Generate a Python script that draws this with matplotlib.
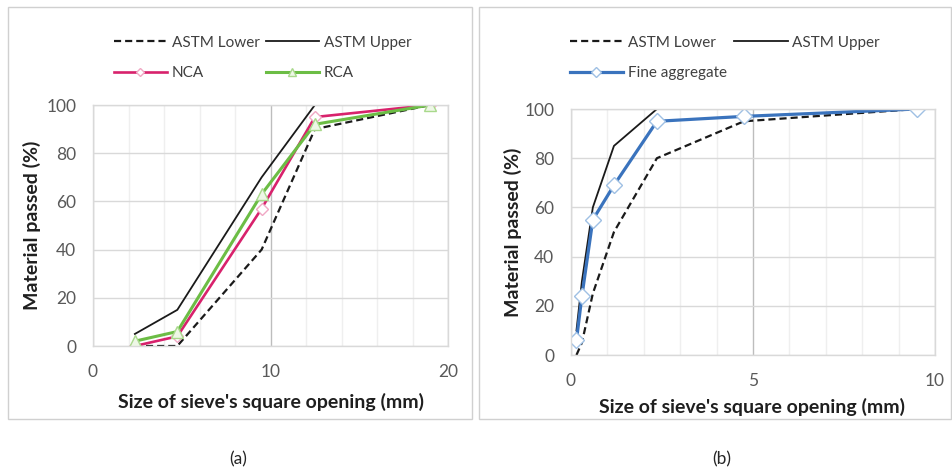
import matplotlib
matplotlib.use("Agg")
import matplotlib.pyplot as plt
from matplotlib.patches import Rectangle
from matplotlib.ticker import MultipleLocator

plt.rcParams["font.family"] = ["Lato", "DejaVu Sans"]

# (a) coarse aggregate grading
coarse_sieve = [2.36, 4.75, 9.5, 12.5, 19.0]
coarse_lower = [0, 0, 40, 90, 100]
coarse_upper = [5, 15, 70, 100, 100]
nca_passed = [0, 4, 57, 95, 100]
rca_passed = [2, 6, 63, 92, 100]

# (b) fine aggregate grading
fine_sieve = [0.15, 0.3, 0.6, 1.18, 2.36, 4.75, 9.5]
fine_lower = [0, 5, 25, 50, 80, 95, 100]
fine_upper = [10, 30, 60, 85, 100, 100, 100]
fine_passed = [6, 24, 55, 69, 95, 97, 100]

y_ticks = [0, 20, 40, 60, 80, 100]
x_ticks_a = [0, 10, 20]
x_ticks_b = [0, 5, 10]

W, H = 952, 469
fig = plt.figure(figsize=(W / 100, H / 100), dpi=100)
fig.patch.set_facecolor("white")


def px_box(x0, y0, x1, y1):
    return [x0 / W, 1 - y1 / H, (x1 - x0) / W, (y1 - y0) / H]


# panel frames
for (x0, y0, x1, y1) in [(8, 7, 472, 419), (479, 7, 951, 419)]:
    fig.add_artist(Rectangle((x0 / W, 1 - y1 / H), (x1 - x0) / W, (y1 - y0) / H,
                             transform=fig.transFigure, fill=False,
                             edgecolor="#d0d0d0", linewidth=1.0))

ax_a = fig.add_axes(px_box(93, 105, 448, 346))
ax_b = fig.add_axes(px_box(571, 109, 935, 355))

TICK_COLOR = "#595959"
GRID_MAJOR = "#d9d9d9"


def style_axes(ax, xmax, xminor, xticks):
    ax.set_xlim(0, xmax)
    ax.set_ylim(0, 100)
    ax.set_xticks(xticks)
    ax.set_yticks(y_ticks)
    ax.xaxis.set_minor_locator(MultipleLocator(xminor))
    ax.grid(axis="y", which="major", color=GRID_MAJOR, linewidth=1.0)
    ax.grid(axis="x", which="major", color="#bdbdbd", linewidth=1.0)
    ax.grid(axis="x", which="minor", color="#efefef", linewidth=1.0)
    ax.set_axisbelow(True)
    for sp in ax.spines.values():
        sp.set_color(GRID_MAJOR)
        sp.set_linewidth(1.0)
    ax.tick_params(which="both", length=0, labelsize=12.5, colors=TICK_COLOR)
    ax.tick_params(axis="x", pad=13)
    ax.tick_params(axis="y", pad=12)


style_axes(ax_a, 20, 2, x_ticks_a)
style_axes(ax_b, 10, 1, x_ticks_b)

LOWER_KW = dict(color="#1a1a1a", linestyle=(0, (3.2, 1.8)), linewidth=1.6)
UPPER_KW = dict(color="#1a1a1a", linestyle="-", linewidth=1.3)

la, = ax_a.plot(coarse_sieve, coarse_lower, label="ASTM Lower", **LOWER_KW)
ua, = ax_a.plot(coarse_sieve, coarse_upper, label="ASTM Upper", **UPPER_KW)
na, = ax_a.plot(coarse_sieve, nca_passed, label="NCA", color="#d8226c",
                linewidth=1.9, marker="D", markersize=6.5,
                markerfacecolor="white", markeredgecolor="#f0a8c4",
                markeredgewidth=1.0)
ra, = ax_a.plot(coarse_sieve, rca_passed, label="RCA", color="#6cbd45",
                linewidth=2.2, marker="^", markersize=9,
                markerfacecolor="#eef7e6", markeredgecolor="#a9d98c",
                markeredgewidth=1.0)

lb, = ax_b.plot(fine_sieve, fine_lower, label="ASTM Lower", **LOWER_KW)
ub, = ax_b.plot(fine_sieve, fine_upper, label="ASTM Upper", **UPPER_KW)
fb, = ax_b.plot(fine_sieve, fine_passed, label="Fine aggregate", color="#3a73bd",
                linewidth=2.3, marker="D", markersize=8,
                markerfacecolor="white", markeredgecolor="#9fc0e4",
                markeredgewidth=1.0)

LABEL_KW = dict(fontsize=14, fontweight="bold", color="#1f1f1f")
for ax in (ax_a, ax_b):
    ax.set_xlabel("Size of sieve's square opening (mm)", va="center", **LABEL_KW)
    ax.set_ylabel("Material passed (%)", va="center", **LABEL_KW)

ax_a.xaxis.set_label_coords((271.5 - 93) / 355, -(402 - 346) / 241)
ax_a.yaxis.set_label_coords(-(93 - 32) / 355, 0.5)
ax_b.xaxis.set_label_coords((752 - 571) / 364, -(407 - 355) / 246)
ax_b.yaxis.set_label_coords(-(571 - 513) / 364, 0.5)

LEG_KW = dict(ncol=2, frameon=False, fontsize=11, handlelength=3.5,
              handletextpad=0.3, labelspacing=1.1, borderpad=0,
              labelcolor="#404040", loc="upper left", markerscale=0.6)
ax_a.legend([la, na, ua, ra], ["ASTM Lower", "NCA", "ASTM Upper", "RCA"],
            bbox_to_anchor=(106 / W, 1 - 28 / H), bbox_transform=fig.transFigure,
            columnspacing=0.4, **LEG_KW)
ax_b.legend([lb, fb, ub], ["ASTM Lower", "Fine aggregate", "ASTM Upper"],
            bbox_to_anchor=(562 / W, 1 - 28 / H), bbox_transform=fig.transFigure,
            columnspacing=0.5, **LEG_KW)

fig.text(238 / W, 1 - 459 / H, "(a)", ha="center", va="center", fontsize=12.5,
         color="#262626")
fig.text(722 / W, 1 - 459 / H, "(b)", ha="center", va="center", fontsize=12.5,
         color="#262626")

fig.savefig("out.png", dpi=100, facecolor="white")
